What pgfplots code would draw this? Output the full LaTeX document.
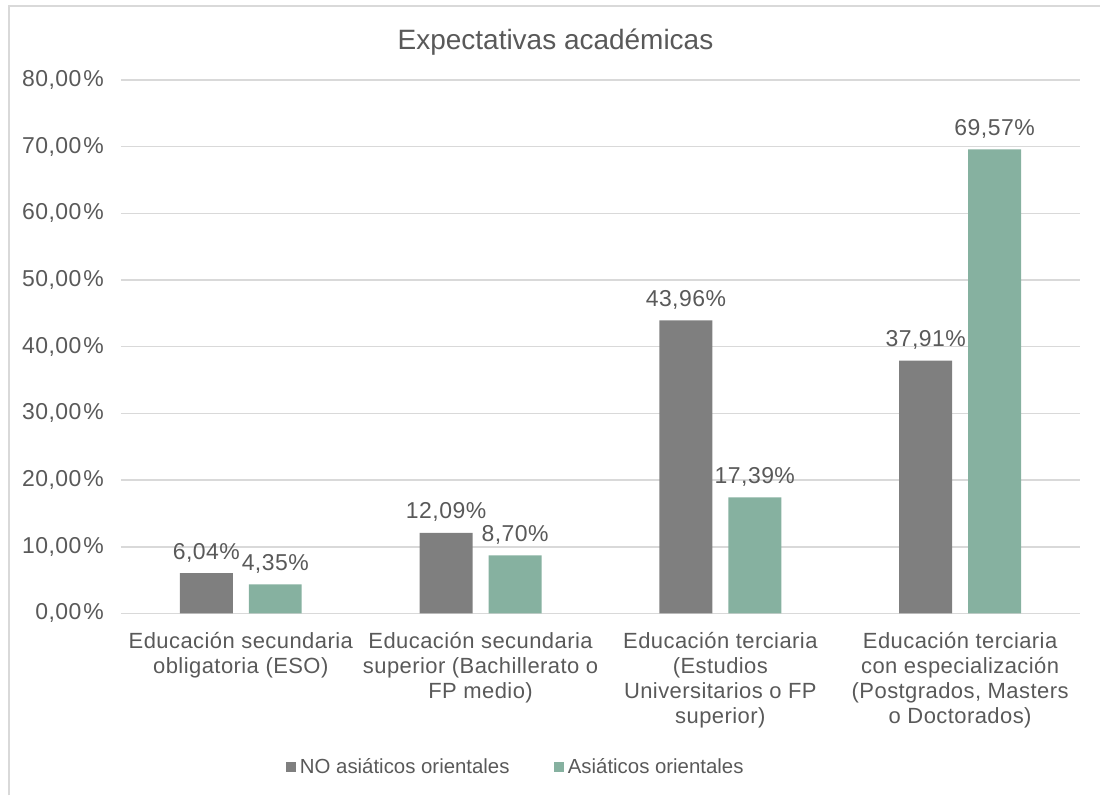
\documentclass[border=0pt]{standalone}
\usepackage{pgfplots}
\pgfplotsset{compat=1.18}
\usepackage{fontspec}
\setmainfont{Liberation Sans}
\newfontfamily\numfont[LetterSpace=2]{Liberation Sans}
\newfontfamily\catfont[LetterSpace=2]{Liberation Sans}
\definecolor{txt}{HTML}{595959}
\definecolor{barG}{HTML}{7F7F7F}
\definecolor{barV}{HTML}{86B1A0}
\definecolor{gridc}{HTML}{D9D9D9}

\begin{document}
\begin{tikzpicture}
\path (0,0) rectangle (550.5pt,398pt);
\draw[gridc, line width=1pt] (4.5pt,0) -- (4.5pt,395pt) -- (550.5pt,395pt);
\node[text=txt, font=\fontsize{14}{17}\selectfont] at (278pt,377pt) {Expectativas académicas};
\begin{axis}[
  at={(60.5pt,91pt)}, anchor=south west,
  width=480pt, height=267pt, scale only axis,
  xmin=-0.5, xmax=3.5, ymin=0, ymax=80,
  ybar=8pt, bar width=26.5pt,
  axis line style={draw=none},
  major tick length=0pt,
  ymajorgrids, grid style={gridc, line width=0.8pt},
  ytick={0,10,...,80},
  /pgf/number format/assume math mode=true,
  yticklabel={\pgfmathprintnumber[fixed,fixed zerofill,precision=2,use comma]{\tick}\kern1pt\%},
  yticklabel style={text=txt, font=\numfont\fontsize{11.5}{13}\selectfont, xshift=-5pt},
  xtick={0,1,2,3},
  xticklabels={
    {Educación secundaria\\obligatoria (ESO)},
    {Educación secundaria\\superior (Bachillerato o\\FP medio)},
    {Educación terciaria\\(Estudios\\Universitarios o FP\\superior)},
    {Educación terciaria\\con especialización\\(Postgrados, Masters\\o Doctorados)}},
  xticklabel style={align=center, text=txt, font=\catfont\fontsize{11}{12.5}\selectfont, yshift=-6pt},
  nodes near coords={\pgfmathprintnumber[fixed,fixed zerofill,precision=2,use comma]{\pgfplotspointmeta}\%},
  nodes near coords style={text=txt, font=\numfont\fontsize{11.5}{13}\selectfont, yshift=2pt},
  legend style={at={(0.4125,-0.288)}, anchor=center, draw=none, fill=none,
    font=\fontsize{10.2}{12}\selectfont, text=txt, legend columns=2,
    /tikz/every even column/.append style={column sep=20pt}},
  legend image code/.code={\fill[#1] (2pt,-2.6pt) rectangle (7.2pt,2.6pt);},
  legend cell align=left,
]
\addplot[fill=barG, draw=none] coordinates {(0,6.04) (1,12.09) (2,43.96) (3,37.91)};
\addplot[fill=barV, draw=none] coordinates {(0,4.35) (1,8.70) (2,17.39) (3,69.57)};
\legend{NO asiáticos orientales, Asiáticos orientales}
\end{axis}
\end{tikzpicture}
\end{document}
